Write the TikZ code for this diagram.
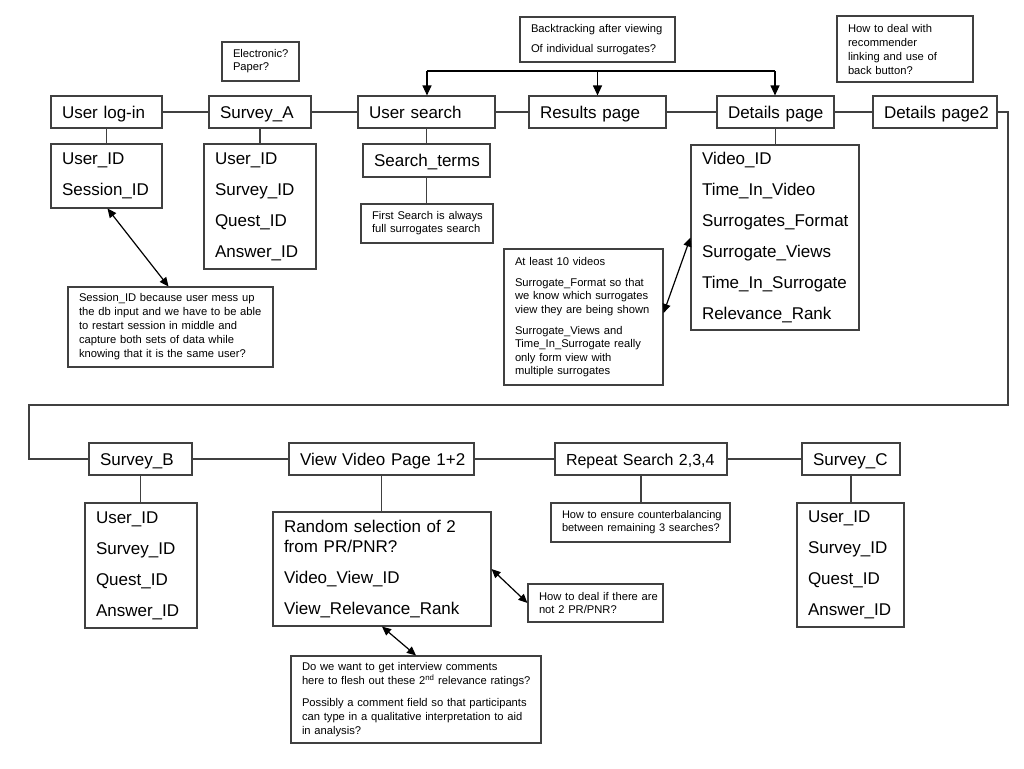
\documentclass[tikz,border=0pt]{standalone}
\usepackage{fontspec}
\setmainfont{Liberation Sans}
\usetikzlibrary{arrows.meta}

\tikzset{
  wd/.style={text width=#1pt-22pt},
  ht/.style={minimum height=#1pt},
  box/.style={draw=black!75, line width=1.1pt, align=left, inner xsep=11pt, inner ysep=0pt,
    execute at begin node={\rightskip=0pt plus 1fil minus 100pt}},
  page/.style={box, text height=12.5pt, text depth=0pt, font=\fontsize{17}{20}\selectfont},
  fields/.style={box, font=\fontsize{17}{31}\selectfont},
  note/.style={box, font=\fontsize{11.2}{14}\selectfont},
  link/.style={draw=black!75, line width=1.1pt},
  tip/.style={line width=1.1pt, -{Triangle[length=10pt,width=9pt]}},
  both/.style={line width=1.2pt, {Triangle[length=9pt,width=8pt]}-{Triangle[length=9pt,width=8pt]}},
}

\begin{document}
\begin{tikzpicture}[x=1pt, y=-1pt]
	\useasboundingbox (0,0) rectangle (1024,768);
	% top row
	\node[page, wd=111, ht=32] (login) at (106.5,112) {User log-in};
	\node[page, wd=102, ht=32] (surveyA) at (260,112) {Survey\_A};
	\node[page, wd=137, ht=32] (search) at (426.5,112) {User search};
	\node[page, wd=137, ht=32] (results) at (597.5,112) {Results page};
	\node[page, wd=117, ht=32] (details) at (775.5,112) {Details page};
	\node[page, wd=124, ht=32] (details2) at (935,112) {Details page2};
	% data kept on each page
	\node[fields, wd=111, ht=64] (loginF) at (106.5,176) {User\_ID\\Session\_ID};
	\node[fields, wd=112, ht=125] (surveyAF) at (260,206.5) {User\_ID\\Survey\_ID\\Quest\_ID\\Answer\_ID};
	\node[page, wd=127, ht=33] (terms) at (426.5,160.5) {Search\_terms};
	\node[fields, wd=168, ht=185] (detailsF) at (775,237.5) {Video\_ID\\Time\_In\_Video\\Surrogates\_Format\\Surrogate\_Views\\Time\_In\_Surrogate\\Relevance\_Rank};
	% notes
	\node[note, wd=132, ht=39, font=\fontsize{11.2}{13}\selectfont] (firstNote) at (427,223.5) {First Search is always\\full surrogates search};
	\node[note, wd=159, ht=136, font=\fontsize{11.2}{13.5}\selectfont] (tenNote) at (583.5,317) {At least 10 videos\\[7.5pt]Surrogate\_Format so that\\we know which surrogates\\view they are being shown\\[7.5pt]Surrogate\_Views and\\Time\_In\_Surrogate really\\only form view with\\multiple surrogates};
	\node[note, wd=155, ht=45] (backNote) at (597.5,39.5) {Backtracking after viewing\\[6pt]Of individual surrogates?};
	\node[note, wd=77, ht=39, font=\fontsize{11.2}{13}\selectfont] (elecNote) at (260.5,61.5) {Electronic?\\Paper?};
	\node[note, wd=136, ht=66] (recNote) at (905,49) {How to deal with\\recommender\\linking and use of\\back button?};
	\node[note, wd=205, ht=80] (sessNote) at (170.5,327) {Session\_ID because user mess up\\the db input and we have to be able\\to restart session in middle and\\capture both sets of data while\\knowing that it is the same user?};
	% bottom row
	\node[page, wd=103, ht=32] (surveyB) at (140.5,459) {Survey\_B};
	\node[page, wd=185, ht=32] (viewVideo) at (381.5,459) {View Video Page 1+2};
	\node[page, wd=172, ht=32, font=\fontsize{16}{20}\selectfont] (repeat) at (641,459) {Repeat Search 2,3,4};
	\node[page, wd=98, ht=32] (surveyC) at (851,459) {Survey\_C};
	\node[fields, wd=112, ht=125] (surveyBF) at (141,565.5) {User\_ID\\Survey\_ID\\Quest\_ID\\Answer\_ID};
	\node[fields, wd=218, ht=114, font=\fontsize{17}{20}\selectfont] (viewF) at (382,569) {Random selection of 2\\from PR/PNR?\\[11pt]Video\_View\_ID\\[11pt]View\_Relevance\_Rank};
	\node[fields, wd=107, ht=124] (surveyCF) at (850.5,565) {User\_ID\\Survey\_ID\\Quest\_ID\\Answer\_ID};
	\node[note, wd=179, ht=39, font=\fontsize{11}{13}\selectfont] (repeatNote) at (640.5,522.5) {How to ensure counterbalancing\\between remaining 3 searches?};
	\node[note, wd=135, ht=38, font=\fontsize{11.2}{13}\selectfont] (pnrNote) at (595.5,603) {How to deal if there are\\not 2 PR/PNR?};
	\node[note, wd=250, ht=87] (commentNote) at (416,699.5) {Do we want to get interview comments\\here to flesh out these 2\textsuperscript{nd} relevance ratings?\\[8pt]Possibly a comment field so that participants\\can type in a qualitative interpretation to aid\\in analysis?};
	% flow
	\draw[link] (login) -- (surveyA);
	\draw[link] (surveyA) -- (search);
	\draw[link] (search) -- (results);
	\draw[link] (results) -- (details);
	\draw[link] (details) -- (details2);
	\coordinate (turnR) at (1008,405);
	\coordinate (turnL) at (29,405);
	\draw[link] (details2.east) -| (turnR) -- (turnL) |- (surveyB.west);
	\draw[link] (surveyB) -- (viewVideo);
	\draw[link] (viewVideo) -- (repeat);
	\draw[link] (repeat) -- (surveyC);
	% stubs
	\draw[link] (login.south) -- (login.south |- loginF.north);
	\draw[link] (surveyA.south) -- (surveyA.south |- surveyAF.north);
	\draw[link] (search.south) -- (search.south |- terms.north);
	\draw[link] (terms.south) -- (terms.south |- firstNote.north);
	\draw[link] (details.south) -- (details.south |- detailsF.north);
	\draw[link] (surveyB.south) -- (surveyB.south |- surveyBF.north);
	\draw[link] (viewVideo.south) -- (viewVideo.south |- viewF.north);
	\draw[link] (repeat.south) -- (repeat.south |- repeatNote.north);
	\draw[link] (surveyC.south) -- (surveyC.south |- surveyCF.north);
	% backtracking
	\coordinate (backL) at (427,71);
	\coordinate (backR) at (775,71);
	\draw[line width=1.1pt] (backL) -- (backR);
	\draw[tip] (backL) -- (backL |- search.north);
	\draw[tip] (results.north |- backL) -- (results.north);
	\draw[tip] (backR) -- (backR |- details.north);
	% remarks
	\draw[both] ([xshift=1pt]loginF.south) -- ([xshift=-2pt]sessNote.north);
	\draw[both] ([yshift=4pt]tenNote.east) -- (detailsF.west);
	\draw[both] (viewF.east) -- (pnrNote.west);
	\draw[both] (viewF.south) -- (commentNote.north);
\end{tikzpicture}
\end{document}
